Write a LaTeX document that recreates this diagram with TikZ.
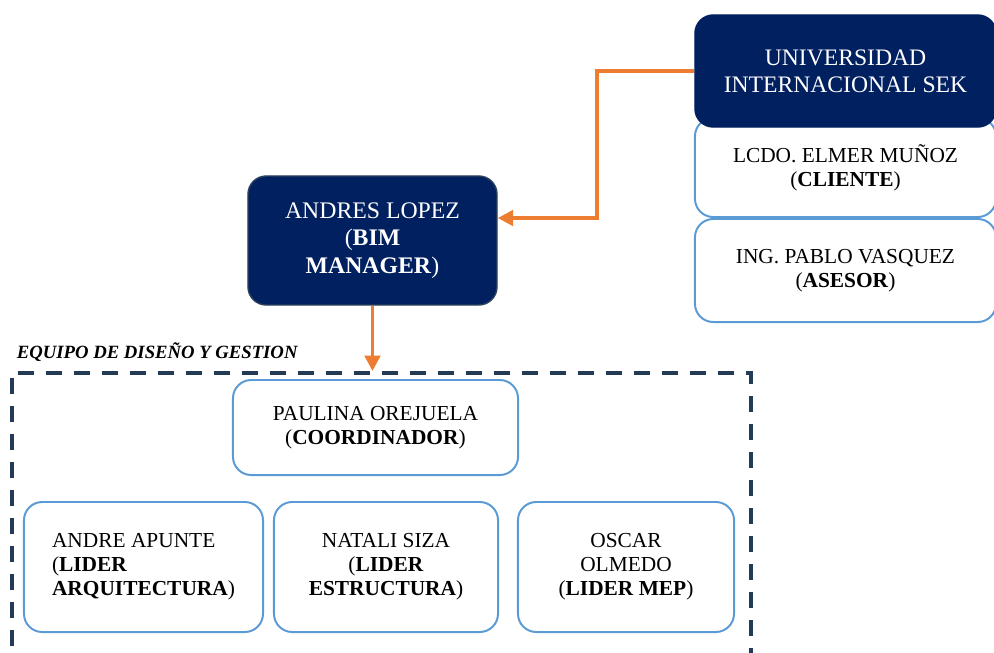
\documentclass[tikz,border=0pt]{standalone}
\usepackage{fontspec}
\setmainfont{Liberation Serif}
\usetikzlibrary{arrows.meta}

\definecolor{sekblue}{RGB}{0,32,96}
\definecolor{sekedge}{RGB}{45,66,92}
\definecolor{roleblue}{RGB}{91,155,213}
\definecolor{linkorange}{RGB}{237,125,49}
\definecolor{teamslate}{RGB}{36,59,88}

\begin{document}
\begin{tikzpicture}[x=0.025cm, y=-0.025cm,
    headbox/.style={rectangle, rounded corners=13pt, fill=sekblue, draw=sekedge,
        line width=1pt, text=white, align=center, inner sep=0pt},
    rolebox/.style={rectangle, rounded corners=13pt, fill=white, draw=roleblue,
        line width=1.4pt, align=center, inner sep=0pt,
        font=\fontsize{15.2}{17}\selectfont},
    teamframe/.style={rectangle, draw=teamslate, line width=2.8pt,
        dash pattern=on 11.4pt off 8.5pt, inner sep=0pt},
    link/.style={draw=linkorange, line width=2.6pt,
        -{Triangle[length=11pt, width=11pt]}}]
    \useasboundingbox (0,0) rectangle (994,652);
    \clip (0,0) rectangle (994,652);

    % university side
    \node[rolebox, minimum width=7.525cm, minimum height=2.475cm] (cliente) at (845.5,167.5)
        {LCDO. ELMER MUÑOZ\\(\textbf{CLIENTE})};
    \node[rolebox, minimum width=7.525cm, minimum height=2.575cm] (asesor) at (845.5,270.5)
        {ING. PABLO VASQUEZ\\(\textbf{ASESOR})};
    \node[headbox, draw=sekblue, minimum width=7.525cm, minimum height=2.8cm,
        font=\fontsize{16.8}{19.2}\selectfont] (uisek) at (845.5,71)
        {UNIVERSIDAD\\INTERNACIONAL SEK};

    % bim manager
    \node[headbox, minimum width=6.225cm, minimum height=3.225cm,
        font=\fontsize{16.9}{19.5}\selectfont] (bim) at (372.5,240.5)
        {ANDRES LOPEZ\\(\textbf{BIM}\\\textbf{MANAGER})};

    % design team
    \node[teamframe, minimum width=18.475cm, minimum height=7.675cm] (team) at (381.5,526.5) {};
    \node[anchor=base west, font=\fontsize{13.3}{15}\selectfont\bfseries\itshape] (teamlabel) at (12,358)
        {EQUIPO DE DISEÑO Y GESTION};
    \node[rolebox, minimum width=7.125cm, minimum height=2.375cm] (coord) at (375.5,427.5)
        {PAULINA OREJUELA\\(\textbf{COORDINADOR})};
    \node[rolebox, align=left, minimum width=5.975cm, minimum height=3.25cm] (arq) at (143.5,567)
        {ANDRE APUNTE\\(\textbf{LIDER}\\\textbf{ARQUITECTURA})};
    \node[rolebox, minimum width=5.6cm, minimum height=3.25cm] (est) at (386,567)
        {NATALI SIZA\\(\textbf{LIDER}\\\textbf{ESTRUCTURA})};
    \node[rolebox, minimum width=5.4cm, minimum height=3.25cm] (mep) at (626,567)
        {OSCAR\\OLMEDO\\(\textbf{LIDER MEP})};

    \coordinate (bend) at (597,218);
    \draw[link] (uisek.west) -| (bend) -- (bim.east |- bend);
    \draw[link] (bim.south) -- (bim.south |- team.north);
\end{tikzpicture}
\end{document}
